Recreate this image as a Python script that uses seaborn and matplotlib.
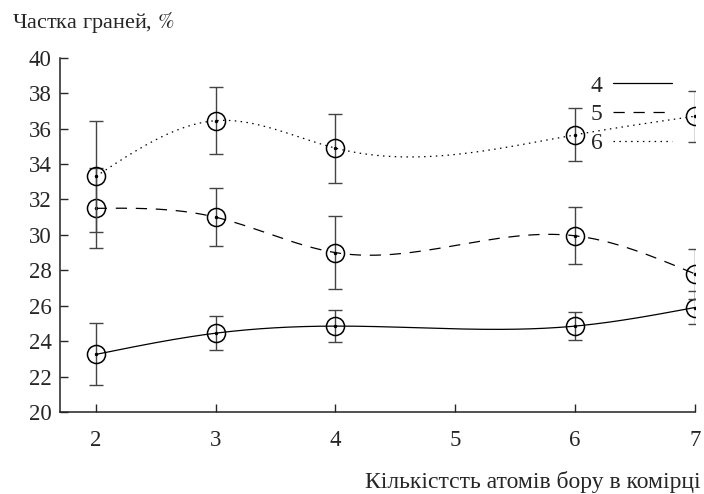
import numpy as np
import pandas as pd
import matplotlib
matplotlib.use("Agg")
import matplotlib.pyplot as plt
import seaborn as sns

# boron atoms per cell
atoms = [2, 3, 4, 6, 7]

# share of faces (%) for 4-, 5- and 6-gonal faces
faces4 = [23.25, 24.45, 24.85, 24.85, 25.9]
faces5 = [31.5, 31.0, 29.0, 29.95, 27.8]
faces6 = [33.3, 36.45, 34.9, 35.65, 36.7]

err4 = [1.75, 0.95, 0.9, 0.8, 0.93]
err5 = [2.25, 1.65, 2.05, 1.6, 1.4]
err6 = [3.15, 1.9, 1.95, 1.5, 1.45]

series_names = ["4", "5", "6"]

sns.set_style("ticks")
plt.rcParams['font.family'] = ['Liberation Serif', 'DejaVu Serif']
plt.rcParams['mathtext.fontset'] = 'stix'


def natural_spline(x, y, n=300):
    """Natural cubic spline through the points (like gnuplot csplines)"""
    x = np.asarray(x, float)
    y = np.asarray(y, float)
    k = len(x)
    h = np.diff(x)
    A = np.zeros((k, k))
    b = np.zeros(k)
    A[0, 0] = A[-1, -1] = 1
    for i in range(1, k - 1):
        A[i, i - 1] = h[i - 1]
        A[i, i] = 2 * (h[i - 1] + h[i])
        A[i, i + 1] = h[i]
        b[i] = 6 * ((y[i + 1] - y[i]) / h[i] - (y[i] - y[i - 1]) / h[i - 1])
    m = np.linalg.solve(A, b)
    xs = np.linspace(x[0], x[-1], n)
    idx = np.clip(np.searchsorted(x, xs) - 1, 0, k - 2)
    x0, x1 = x[idx], x[idx + 1]
    hh = x1 - x0
    t0, t1 = x1 - xs, xs - x0
    ys = (m[idx] * t0**3 / (6 * hh) + m[idx + 1] * t1**3 / (6 * hh)
          + (y[idx] / hh - m[idx] * hh / 6) * t0
          + (y[idx + 1] / hh - m[idx + 1] * hh / 6) * t1)
    return xs, ys


frames = []
for name, vals in zip(series_names, [faces4, faces5, faces6]):
    xs, ys = natural_spline(atoms, vals)
    frames.append(pd.DataFrame({'atoms': xs, 'share': ys, 'faces': name}))
curves = pd.concat(frames, ignore_index=True)

fig = plt.figure(figsize=(7.04, 4.94), dpi=100)
ax = fig.add_axes([0.085, 0.166, 0.902, 0.717])

sns.lineplot(data=curves, x='atoms', y='share', style='faces',
             dashes={"4": "", "5": (9, 7), "6": (1.2, 3.5)},
             color='black', linewidth=0.9, ax=ax, sort=False)

for vals, errs in zip([faces4, faces5, faces6], [err4, err5, err6]):
    ax.errorbar(atoms, vals, yerr=errs, fmt='none', ecolor='#444444',
                elinewidth=1.0, capsize=5, capthick=1.0)
    ax.plot(atoms, vals, 'o', ms=13, mfc='none', mec='black', mew=1.1)
    ax.plot(atoms, vals, '.', ms=3, color='black')

ax.set_xlim(1.7, 7)
ax.set_ylim(20, 40)
ax.set_xticks([2, 3, 4, 5, 6, 7])
ax.set_yticks(range(20, 41, 2))
ax.tick_params(direction='in', length=6, width=1, labelsize=16.5)
ax.tick_params(axis='x', pad=13)
ax.tick_params(axis='y', pad=6)
ax.set_xlabel('')
ax.set_ylabel('')
for side in ['top', 'right']:
    ax.spines[side].set_visible(False)
for side in ['left', 'bottom']:
    ax.spines[side].set_linewidth(1.1)
    ax.spines[side].set_color('#222222')

leg = ax.legend(title=None, frameon=False, markerfirst=False,
                handlelength=2.5, handletextpad=0.45, labelspacing=0.3,
                fontsize=17, loc='upper right', borderpad=0,
                borderaxespad=0, bbox_to_anchor=(672 / 704, 0.848),
                bbox_transform=fig.transFigure)

fig.text(0.017, 0.955, 'Частка граней, $\\it{\\%}$', fontsize=16,
         ha='left', va='center')
fig.text(0.519, 1 - 488 / 494, 'Кількістсть атомів бору в комірці',
         fontsize=17, ha='left', va='baseline')

plt.savefig('out.png', dpi=100)
